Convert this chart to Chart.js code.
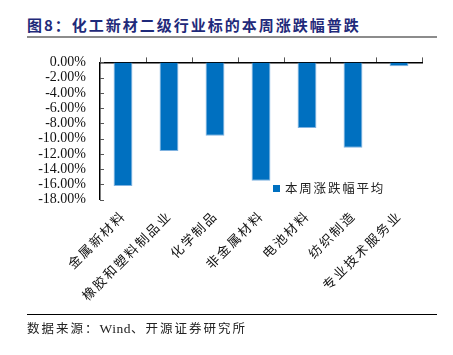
<!DOCTYPE html>
<html>
<head>
<meta charset="utf-8">
<script src="https://cdn.jsdelivr.net/npm/chart.js@4"></script>
<style>
html,body{margin:0;padding:0;background:#fff;width:453px;height:355px;overflow:hidden;position:relative;}
#title{position:absolute;left:27px;top:15px;font-family:"Noto Sans CJK SC";font-weight:bold;font-size:15px;letter-spacing:2px;color:#1F2A7A;white-space:nowrap;line-height:20px;}
#titleLine{position:absolute;left:27px;top:36px;width:410px;height:2px;background:#8c8c8c;}
#wrap{position:absolute;left:0;top:40px;width:453px;height:275px;}
#legend{position:absolute;left:273px;top:180px;font-family:"Noto Sans CJK SC";font-size:12.5px;letter-spacing:1.8px;color:#222;white-space:nowrap;line-height:16px;}
#legend .sw{display:inline-block;width:7px;height:7px;background:#0070C0;margin-right:5px;vertical-align:1px;}
#srcLine{position:absolute;left:27px;top:314px;width:410px;height:1px;background:#000;}
#source{position:absolute;left:27px;top:320px;font-family:"Noto Sans CJK SC","Liberation Serif";font-size:12.5px;letter-spacing:2px;color:#222;white-space:nowrap;line-height:16px;}
</style>
</head>
<body>
<div id="title">图8：化工新材二级行业标的本周涨跌幅普跌</div>
<div id="titleLine"></div>
<div id="wrap"><canvas id="c" width="453" height="275"></canvas></div>
<div id="legend"></div>
<div id="srcLine"></div>
<div id="source">数据来源：<span style="font-family:'Liberation Serif';font-size:13.5px;letter-spacing:0.5px;">Wind</span>、开源证券研究所</div>
<script>
const categories = ["金属新材料","橡胶和塑料制品业","化学制品","非金属材料","电池材料","纺织制造","专业技术服务业"];
const seriesName = "本周涨跌幅平均";
const values = [-16.2, -11.6, -9.6, -15.5, -8.6, -11.2, -0.5];
const yTicks = [0,-2,-4,-6,-8,-10,-12,-14,-16,-18];

document.getElementById('legend').innerHTML = '<span class="sw"></span>' + seriesName;

const chart = new Chart(document.getElementById('c'), {
  type: 'bar',
  data: {
    labels: categories,
    datasets: [{
      label: seriesName,
      data: values,
      backgroundColor: '#0070C0',
      borderColor: '#7FB2E0',
      borderWidth: {left:1,right:1,top:0,bottom:1},
      borderSkipped: false,
      barPercentage: 0.41,
      categoryPercentage: 1.0
    }]
  },
  options: {
    responsive: false,
    animation: false,
    layout: {padding: {left: 0, right: 31, top: 16, bottom: 0}},
    plugins: {legend: {display: false}, tooltip: {enabled: false}},
    scales: {
      x: {
        position: 'bottom',
        grid: {display: false, drawTicks: false},
        border: {display: false},
        ticks: {
          minRotation: 45, maxRotation: 45, autoSkip: false, padding: 8,
          color: '#111',
          font: {family: 'Noto Sans CJK SC', size: 13}
        },
        afterFit: s => { s.height = 115.3; }
      },
      x2: {
        type: 'category',
        labels: categories,
        position: 'top',
        offset: true,
        grid: {display: true, drawOnChartArea: false, drawTicks: true, tickLength: 5, color: '#555', offset: true},
        border: {display: true, color: '#000', width: 1.5},
        ticks: {display: false},
        afterFit: s => { s.height = 5; }
      },
      y: {
        min: -18, max: 0,
        afterBuildTicks: s => { s.ticks = yTicks.map(v => ({value: v})); },
        grid: {display: false, drawTicks: false},
        border: {display: true, color: '#000', width: 1.5},
        ticks: {
          autoSkip: false,
          padding: 14,
          color: '#111',
          font: {family: 'Liberation Serif', size: 14},
          callback: v => v.toFixed(2) + '%'
        },
        afterFit: s => { s.width = 100; }
      }
    }
  },
  plugins: [{
    id: 'innerTicks',
    afterDraw(chart) {
      const ctx = chart.ctx, y = chart.scales.y, a = chart.chartArea;
      ctx.save();
      ctx.strokeStyle = '#555';
      ctx.lineWidth = 1;
      yTicks.forEach(v => {
        const py = Math.round(y.getPixelForValue(v)) + 0.5;
        ctx.beginPath();
        ctx.moveTo(a.left, py);
        ctx.lineTo(a.left + 4, py);
        ctx.stroke();
      });
      ctx.restore();
    }
  }]
});
// letter-spaced category labels
const xs = chart.scales.x;
const origDrawLabels = xs.drawLabels.bind(xs);
xs.drawLabels = function(area) {
  const ctx = chart.ctx;
  const prev = ctx.letterSpacing;
  ctx.letterSpacing = '2px';
  origDrawLabels(area);
  ctx.letterSpacing = prev || '0px';
};
chart.draw();
</script>
</body>
</html>
